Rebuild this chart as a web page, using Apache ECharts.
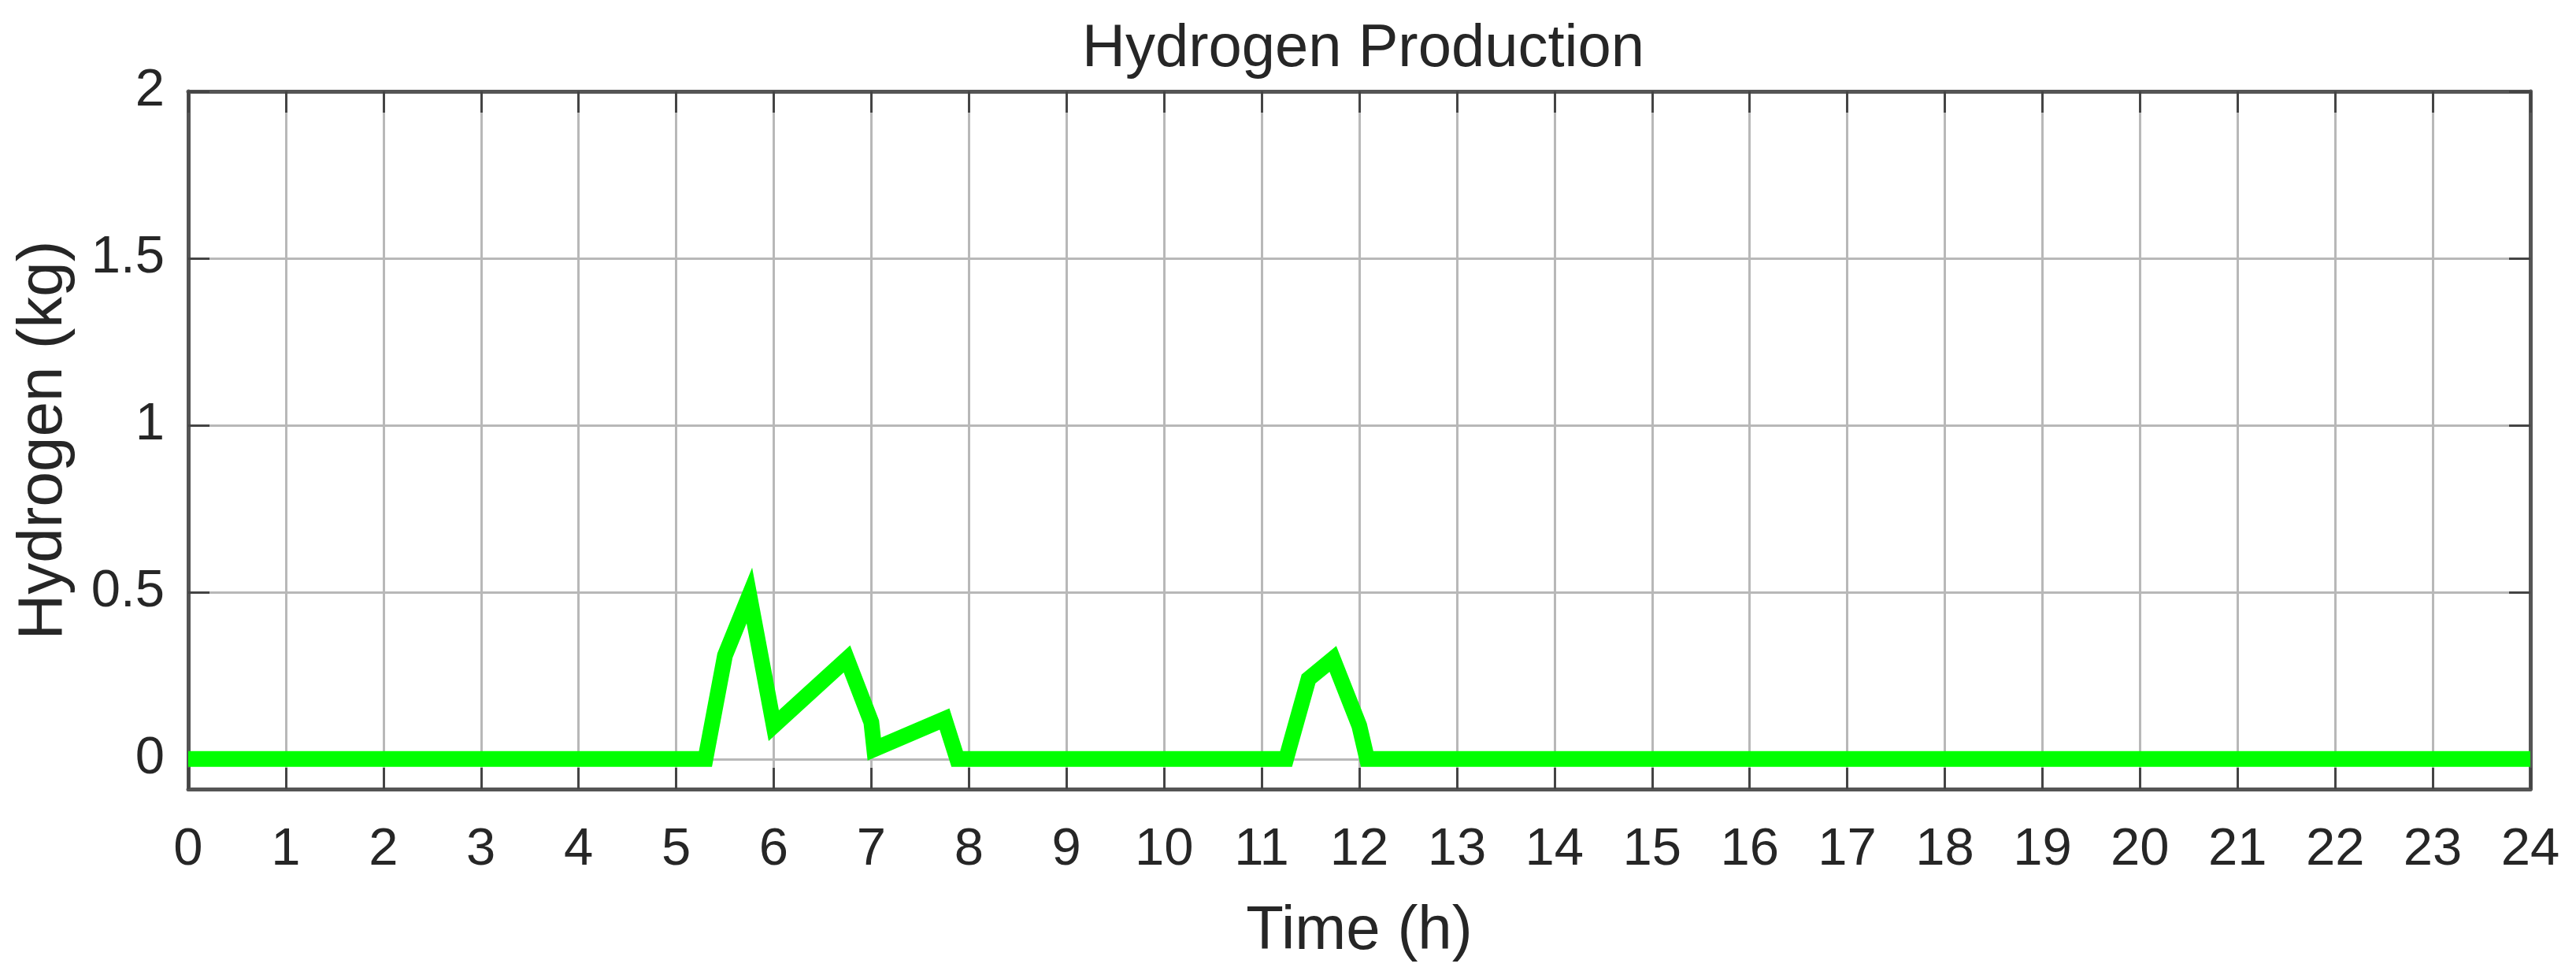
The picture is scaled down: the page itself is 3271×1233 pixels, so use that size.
<!DOCTYPE html>
<html>
<head>
<meta charset="utf-8">
<title>Hydrogen Production</title>
<script src="https://cdn.jsdelivr.net/npm/echarts@6/dist/echarts.min.js"></script>
<style>
  html, body { margin: 0; padding: 0; background: #fff; }
  #chart { width: 3271px; height: 1233px; }
</style>
</head>
<body>
<div id="chart"></div>
<script>
// time (h) and hydrogen produced (kg)
const hours = [0, 5.3, 5.5, 5.75, 6.0, 6.75, 7.0, 7.03, 7.75, 7.88, 11.25, 11.48, 11.73, 12.0, 12.08, 24]
const hydrogen = [0, 0, 0.31, 0.49, 0.1, 0.3, 0.11, 0.03, 0.12, 0, 0, 0.24, 0.3, 0.1, 0, 0]

const yTicks = [0, 0.5, 1, 1.5, 2]

const font = 'Liberation Sans, Arial, sans-serif'
const axisColor = '#555'
const textColor = '#262626'

const myChart = echarts.init(document.getElementById('chart'))

const tickStyle = { inside: true, length: 27, lineStyle: { color: '#444', width: 3 } }
const lineStyle = { lineStyle: { color: axisColor, width: 5 } }

myChart.setOption({
  animation: false,
  title: {
    text: 'Hydrogen Production',
    left: 1726,
    textAlign: 'center',
    top: 20,
    textStyle: { fontFamily: font, fontSize: 76, fontWeight: 'normal', color: textColor }
  },
  grid: { left: 239, right: 58, top: 116, bottom: 231 },
  xAxis: [
    {
      type: 'value',
      min: 0,
      max: 24,
      interval: 1,
      name: 'Time (h)',
      nameLocation: 'middle',
      nameGap: 142,
      nameTextStyle: { fontFamily: font, fontSize: 78, color: textColor },
      axisLine: { onZero: false, ...lineStyle },
      axisTick: tickStyle,
      axisLabel: { margin: 44, fontFamily: font, fontSize: 67, color: textColor },
      splitLine: { show: true, lineStyle: { color: '#b8b8b8', width: 3 } }
    },
    {
      type: 'value',
      position: 'top',
      min: 0,
      max: 24,
      interval: 1,
      axisLine: { onZero: false, ...lineStyle },
      axisTick: tickStyle,
      axisLabel: { show: false },
      splitLine: { show: false }
    }
  ],
  yAxis: [
    {
      type: 'value',
      min: -0.09,
      max: 2,
      name: 'Hydrogen (kg)',
      nameLocation: 'middle',
      nameGap: 143,
      nameTextStyle: { fontFamily: font, fontSize: 80, color: textColor },
      axisLine: { onZero: false, ...lineStyle },
      axisTick: { ...tickStyle, customValues: yTicks },
      axisLabel: { customValues: yTicks, margin: 30, fontFamily: font, fontSize: 67, color: textColor },
      splitLine: { show: true, lineStyle: { color: '#b8b8b8', width: 3 } }
    },
    {
      type: 'value',
      position: 'right',
      min: -0.09,
      max: 2,
      axisLine: { onZero: false, ...lineStyle },
      axisTick: { ...tickStyle, customValues: yTicks },
      axisLabel: { show: false, customValues: yTicks },
      splitLine: { show: false }
    }
  ],
  series: [
    {
      name: 'Hydrogen',
      type: 'line',
      xAxisIndex: 0,
      yAxisIndex: 0,
      showSymbol: false,
      data: hours.map((h, i) => [h, hydrogen[i]]),
      lineStyle: { color: '#00ff00', width: 20, join: 'miter', miterLimit: 4 },
      z: 5
    }
  ]
})
</script>
</body>
</html>
